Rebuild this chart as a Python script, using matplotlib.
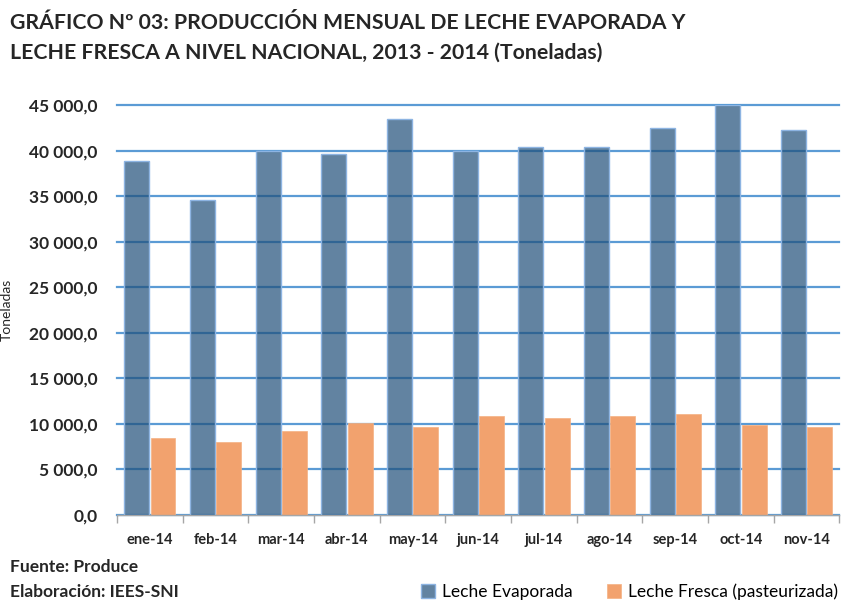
import numpy as np
from matplotlib import pyplot as plt
from matplotlib.ticker import FuncFormatter, FixedLocator

meses = ['ene-14', 'feb-14', 'mar-14', 'abr-14', 'may-14', 'jun-14',
         'jul-14', 'ago-14', 'sep-14', 'oct-14', 'nov-14']
evaporada = [38850, 34570, 39950, 39620, 43430, 39950,
             40420, 40420, 42440, 45000, 42220]
fresca = [8420, 8010, 9220, 10060, 9620, 10870,
          10610, 10870, 11050, 9880, 9620]

plt.rcParams['font.family'] = ['Lato', 'DejaVu Sans']

def miles(v, pos):
    s = '{:,.1f}'.format(v)
    return s.replace(',', ' ').replace('.', ',')

fig = plt.figure(figsize=(8.42, 6.02), dpi=100)
ax = fig.add_axes([0.139, 0.1445, 0.858, 0.681])

x = np.arange(len(meses))
w = 0.38
ax.bar(x - 0.2, evaporada, w, color=(0.12, 0.31, 0.475, 0.7), edgecolor='#8db4e2',
       linewidth=1, label='Leche Evaporada', zorder=2)
ax.bar(x + 0.2, fresca, w, color='#f2a26e', edgecolor='#f4b183',
       linewidth=0.5, label='Leche Fresca (pasteurizada)', zorder=3)

ax.set_xlim(-0.5, len(meses) - 0.5)
ax.set_ylim(0, 45000)
ax.set_yticks(np.arange(0, 45001, 5000))
ax.yaxis.set_major_formatter(FuncFormatter(miles))
ax.grid(axis='y', color='#5b9bd5', linewidth=1.6, zorder=1)
ax.set_axisbelow(True)
for gl in ax.get_ygridlines():
    gl.set_clip_on(False)

ax.set_xticks(x)
ax.set_xticklabels(meses, fontsize=10.5, fontweight='bold', color='#262626')
ax.xaxis.set_minor_locator(FixedLocator(np.arange(-0.5, len(meses), 1)))
ax.tick_params(axis='x', which='major', length=0, pad=13)
ax.tick_params(axis='x', which='minor', length=6, color='#a6a6a6', width=1)
ax.tick_params(axis='y', length=0, pad=14, labelsize=12.5, labelcolor='#262626')
for t in ax.get_yticklabels():
    t.set_fontweight('bold')

for s in ['top', 'right', 'left']:
    ax.spines[s].set_visible(False)
ax.spines['bottom'].set_color('#a6a6a6')
ax.spines['bottom'].set_linewidth(1)
ax.spines['bottom'].set_zorder(4)

ax.set_ylabel('Toneladas', fontsize=10, color='#262626')
ax.yaxis.set_label_coords(-0.145, 0.5)

fig.text(0.012, 0.962, 'GRÁFICO Nº 03: PRODUCCIÓN MENSUAL DE LECHE EVAPORADA Y',
         fontsize=15.3, fontweight='bold', color='#262626', va='center')
fig.text(0.012, 0.912, 'LECHE FRESCA A NIVEL NACIONAL, 2013 - 2014 (Toneladas)',
         fontsize=15.3, fontweight='bold', color='#262626', va='center')

fig.text(0.012, 0.058, 'Fuente: Produce', fontsize=12.5, fontweight='bold',
         color='#262626', va='center')
fig.text(0.012, 0.017, 'Elaboración: IEES-SNI', fontsize=12.5, fontweight='bold',
         color='#262626', va='center')

ax.legend(loc='center left', bbox_to_anchor=(0.49, 0.017),
          bbox_transform=fig.transFigure, ncol=2, frameon=False,
          fontsize=12.5, handlelength=0.8, handleheight=0.8,
          handletextpad=0.4, columnspacing=2.0, borderpad=0)

fig.savefig('out.png', dpi=100)
